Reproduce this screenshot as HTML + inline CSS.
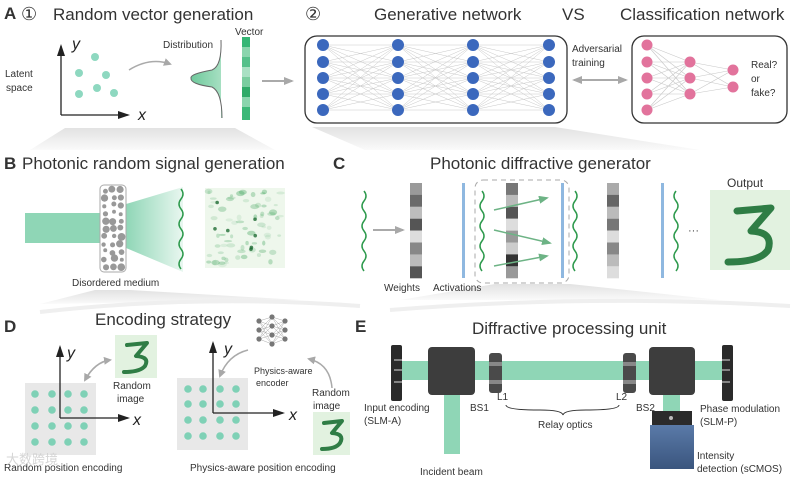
<!DOCTYPE html>
<html><head><meta charset="utf-8"><style>
html,body{margin:0;padding:0;background:#fff;}
svg{display:block;font-family:"Liberation Sans",Arial,sans-serif;}
</style></head><body>
<svg id="s" width="795" height="480" viewBox="0 0 795 480" xmlns="http://www.w3.org/2000/svg">
<defs>
<linearGradient id="sh" x1="0" y1="0" x2="0" y2="1"><stop offset="0" stop-color="#e2e2e2"/><stop offset="1" stop-color="#fafafa"/></linearGradient>
<linearGradient id="cone" x1="0" y1="0" x2="1" y2="0"><stop offset="0" stop-color="#8fd6b6"/><stop offset="1" stop-color="#e9f7f0"/></linearGradient>
<linearGradient id="gau" x1="0" y1="0" x2="1" y2="0"><stop offset="0" stop-color="#6fc99c"/><stop offset="1" stop-color="#a8e0c3"/></linearGradient>
<linearGradient id="cam" x1="0" y1="0" x2="0" y2="1"><stop offset="0" stop-color="#5a7aa8"/><stop offset="1" stop-color="#3a557e"/></linearGradient>
<marker id="ar" markerWidth="8" markerHeight="8" refX="6" refY="4" orient="auto" markerUnits="userSpaceOnUse"><path d="M0,0 L8,4 L0,8 z" fill="#a8a8a8"/></marker>
<marker id="ar2" markerWidth="10" markerHeight="8" refX="8" refY="4" orient="auto" markerUnits="userSpaceOnUse"><path d="M0,0 L10,4 L0,8 z" fill="#a8a8a8"/></marker>
<marker id="ag" markerWidth="10" markerHeight="8" refX="8" refY="4" orient="auto" markerUnits="userSpaceOnUse"><path d="M0,0 L10,4 L0,8 z" fill="#6db385"/></marker>
<marker id="ak" markerWidth="12" markerHeight="8" refX="10" refY="4" orient="auto" markerUnits="userSpaceOnUse"><path d="M0,0 L12,4 L0,8 z" fill="#222"/></marker>
</defs>

<!-- shading -->
<polygon points="65,128 235,128 275,150 30,150" fill="url(#sh)"/>
<polygon points="312,127 555,127 700,150 365,150" fill="url(#sh)"/>
<polygon points="95,290 130,290 300,300 40,304" fill="url(#sh)"/>
<path d="M40,312 Q200,294 360,306" stroke="#efefef" stroke-width="4" fill="none"/>
<polygon points="495,284 570,284 720,300 400,300" fill="url(#sh)"/>
<path d="M390,310 Q590,294 790,306" stroke="#efefef" stroke-width="4" fill="none"/>

<g fill="#333">
<text x="4" y="19" font-size="17" font-weight="bold">A</text>
<text x="21" y="20" font-size="18">①</text>
<text x="53" y="20" font-size="17">Random vector generation</text>
<text x="305" y="20" font-size="18">②</text>
<text x="374" y="20" font-size="17">Generative network</text>
<text x="562" y="20" font-size="17">VS</text>
<text x="620" y="20" font-size="17">Classification network</text>
</g>

<!-- A latent -->
<g fill="#333" font-size="10"><text x="5" y="77">Latent</text><text x="6" y="91">space</text></g>
<line x1="61" y1="115" x2="61" y2="46" stroke="#222" stroke-width="1.3" marker-end="url(#ak)"/>
<line x1="61" y1="115" x2="128" y2="115" stroke="#222" stroke-width="1.3" marker-end="url(#ak)"/>
<text x="72" y="49" font-size="16" font-style="italic" fill="#222">y</text>
<text x="138" y="120" font-size="16" font-style="italic" fill="#222">x</text>
<g fill="#8ed8c0"><circle cx="95" cy="57" r="4"/><circle cx="79" cy="73" r="4"/><circle cx="106" cy="75" r="4"/><circle cx="79" cy="94" r="4"/><circle cx="97" cy="88" r="4"/><circle cx="114" cy="93" r="4"/></g>
<path d="M129,70 Q150,57 170,64" stroke="#aaa" stroke-width="1.5" fill="none" marker-end="url(#ar)"/>
<text x="163" y="48" font-size="10" fill="#333">Distribution</text>
<path d="M221,40 Q222,66 212,70 Q190,74 191,78 Q190,84 212,87 Q222,92 222,118 L221,118 L221,40 z" fill="url(#gau)"/>
<path d="M221,40 Q222,66 212,70 Q190,74 191,78 Q190,84 212,87 Q222,92 222,118" stroke="#666" stroke-width="1" fill="none"/>
<text x="235" y="35" font-size="10" fill="#333">Vector</text>
<g>
<rect x="242" y="37" width="8" height="10" fill="#35b675"/><rect x="242" y="47" width="8" height="10" fill="#8ad5ad"/><rect x="242" y="57" width="8" height="10" fill="#55c08a"/><rect x="242" y="67" width="8" height="10" fill="#a9e0c3"/><rect x="242" y="77" width="8" height="10" fill="#7acd9f"/><rect x="242" y="87" width="8" height="10" fill="#2faa68"/><rect x="242" y="97" width="8" height="10" fill="#8ad5ad"/><rect x="242" y="107" width="8" height="13" fill="#3cb878"/>
</g>
<line x1="262" y1="81" x2="292" y2="81" stroke="#aaa" stroke-width="2" marker-end="url(#ar2)"/>

<!-- gen network -->
<rect x="305" y="36" width="262" height="87" rx="12" fill="#fff" stroke="#333" stroke-width="1.3"/>
<g id="gen"></g>
<g fill="#333" font-size="10"><text x="572" y="52">Adversarial</text><text x="572" y="66">training</text></g>
<line x1="585" y1="80" x2="574" y2="80" stroke="#aaa" stroke-width="2" marker-end="url(#ar2)"/>
<line x1="590" y1="80" x2="626" y2="80" stroke="#aaa" stroke-width="2" marker-end="url(#ar2)"/>
<line x1="585" y1="80" x2="610" y2="80" stroke="#aaa" stroke-width="2"/>
<rect x="632" y="36" width="155" height="87" rx="12" fill="#fff" stroke="#333" stroke-width="1.3"/>
<g id="cls"></g>
<g fill="#333" font-size="10"><text x="751" y="68">Real?</text><text x="751" y="82">or</text><text x="751" y="96">fake?</text></g>

<!-- B -->
<text x="4" y="169" font-size="17" font-weight="bold" fill="#333">B</text>
<text x="22" y="169" font-size="17" fill="#333">Photonic random signal generation</text>
<rect x="25" y="213" width="76" height="30" fill="#8fd6b6"/>
<polygon points="126,204 183,187 183,272 126,248" fill="url(#cone)"/>
<rect x="100" y="185" width="26" height="87" rx="4" fill="#fff" stroke="#aaa"/>
<g id="med" fill="#999"></g>
<path d="M181,189 q4,5 0,10 t0,10 t0,10 t0,10 t0,10 t0,10 t0,10 t0,10" stroke="#2e9a4d" stroke-width="1.5" fill="none"/>
<rect x="205" y="188" width="80" height="80" fill="#eef7ec"/>
<g id="spk"></g>
<text x="72" y="286" font-size="10" fill="#333">Disordered medium</text>

<!-- C -->
<text x="333" y="169" font-size="17" font-weight="bold" fill="#333">C</text>
<text x="430" y="169" font-size="17" fill="#333">Photonic diffractive generator</text>
<path d="M364,191 q4,5 0,10 t0,10 t0,10 t0,10 t0,10 t0,10 t0,10 t0,10" stroke="#2e9a4d" stroke-width="1.5" fill="none"/>
<line x1="373" y1="230" x2="403" y2="230" stroke="#aaa" stroke-width="2" marker-end="url(#ar2)"/>
<g id="bars"></g>
<rect x="462" y="183" width="3" height="95" fill="#8fb8e0"/>
<rect x="475" y="180" width="94" height="103" rx="8" fill="none" stroke="#aaa" stroke-dasharray="5,4"/>
<path d="M482,191 q4,5 0,10 t0,10 t0,10 t0,10 t0,10 t0,10 t0,10 t0,10" stroke="#2e9a4d" stroke-width="1.5" fill="none"/>
<rect x="561" y="183" width="3" height="95" fill="#8fb8e0"/>
<path d="M575,191 q4,5 0,10 t0,10 t0,10 t0,10 t0,10 t0,10 t0,10 t0,10" stroke="#2e9a4d" stroke-width="1.5" fill="none"/>
<rect x="661" y="183" width="3" height="95" fill="#8fb8e0"/>
<path d="M676,191 q-4,5 0,10 t0,10 t0,10 t0,10 t0,10 t0,10 t0,10 t0,10" stroke="#2e9a4d" stroke-width="1.5" fill="none"/>
<line x1="494" y1="210" x2="547" y2="198" stroke="#6db385" stroke-width="1.5" marker-end="url(#ag)"/>
<line x1="494" y1="230" x2="550" y2="243" stroke="#6db385" stroke-width="1.5" marker-end="url(#ag)"/>
<line x1="494" y1="266" x2="547" y2="256" stroke="#6db385" stroke-width="1.5" marker-end="url(#ag)"/>
<text x="688" y="234" font-size="11" fill="#444">···</text>
<text x="727" y="187" font-size="12" fill="#333">Output</text>
<rect x="710" y="190" width="80" height="80" fill="#e2f2e0"/>
<path d="M737,211 L771,208 L751,231 Q774,232 768,250 Q760,262 728,262" stroke="#2f7d45" stroke-width="7" fill="none" stroke-linejoin="round" stroke-linecap="round"/>
<g fill="#333" font-size="10"><text x="384" y="291">Weights</text><text x="433" y="291">Activations</text></g>

<!-- D -->
<text x="4" y="332" font-size="17" font-weight="bold" fill="#333">D</text>
<text x="95" y="325" font-size="17" fill="#333">Encoding strategy</text>
<rect x="25" y="383" width="71" height="72" fill="#e8e8e8"/>
<rect x="177" y="378" width="71" height="72" fill="#e8e8e8"/>
<g id="dots" fill="#7fd1b6"></g>
<line x1="60" y1="418" x2="60" y2="347" stroke="#222" stroke-width="1.3" marker-end="url(#ak)"/>
<line x1="60" y1="418" x2="128" y2="418" stroke="#222" stroke-width="1.3" marker-end="url(#ak)"/>
<text x="67" y="358" font-size="16" font-style="italic" fill="#222">y</text>
<text x="133" y="425" font-size="16" font-style="italic" fill="#222">x</text>
<line x1="213" y1="413" x2="213" y2="343" stroke="#222" stroke-width="1.3" marker-end="url(#ak)"/>
<line x1="213" y1="413" x2="283" y2="413" stroke="#222" stroke-width="1.3" marker-end="url(#ak)"/>
<text x="224" y="354" font-size="16" font-style="italic" fill="#222">y</text>
<text x="289" y="420" font-size="16" font-style="italic" fill="#222">x</text>
<rect x="115" y="335" width="42" height="43" fill="#e2f2e0"/>
<path d="M127,345 L147,343 L136,356 Q150,357 145,366 Q140,372 124,372" stroke="#2f7d45" stroke-width="4" fill="none" stroke-linejoin="round" stroke-linecap="round"/>
<path d="M85,380 Q95,362 110,360" stroke="#aaa" stroke-width="1.5" fill="none" marker-end="url(#ar)"/>
<path d="M110,360 Q95,362 85,380" stroke="#aaa" stroke-width="1.5" fill="none" marker-end="url(#ar)"/>
<g fill="#333" font-size="10"><text x="113" y="389">Random</text><text x="117" y="402">image</text></g>
<g id="enc"></g>
<g fill="#333" font-size="9"><text x="254" y="374">Physics-aware</text><text x="256" y="386">encoder</text></g>
<path d="M248,350 Q228,355 220,376" stroke="#aaa" stroke-width="1.5" fill="none" marker-end="url(#ar)"/>
<path d="M332,388 Q330,364 309,359" stroke="#aaa" stroke-width="1.5" fill="none" marker-end="url(#ar)"/>
<g fill="#333" font-size="10"><text x="312" y="396">Random</text><text x="313" y="409">image</text></g>
<rect x="313" y="412" width="37" height="43" fill="#e2f2e0"/>
<path d="M324,423 L342,421 L332,433 Q345,434 340,443 Q336,449 322,449" stroke="#2f7d45" stroke-width="4" fill="none" stroke-linejoin="round" stroke-linecap="round"/>
<g fill="#333" font-size="10"><text x="4" y="471">Random position encoding</text><text x="190" y="471">Physics-aware position encoding</text></g>
<text x="6" y="464" font-size="13" fill="#ccc" opacity="0.8">大数跨境</text>

<!-- E -->
<text x="355" y="332" font-size="17" font-weight="bold" fill="#333">E</text>
<text x="472" y="334" font-size="17" fill="#333">Diffractive processing unit</text>
<rect x="400" y="361" width="325" height="19" fill="#8fd6b6"/>
<rect x="444" y="392" width="16" height="62" fill="#8fd6b6"/>
<rect x="663" y="392" width="17" height="20" fill="#8fd6b6"/>
<rect x="391" y="345" width="11" height="56" rx="2" fill="#2a2a2a"/>
<g stroke="#ddd" stroke-width="1"><line x1="394" y1="360" x2="402" y2="360"/><line x1="394" y1="370" x2="402" y2="370"/><line x1="394" y1="382" x2="402" y2="382"/></g>
<rect x="722" y="345" width="11" height="56" rx="2" fill="#2a2a2a"/>
<g stroke="#ddd" stroke-width="1"><line x1="722" y1="360" x2="730" y2="360"/><line x1="722" y1="370" x2="730" y2="370"/><line x1="722" y1="382" x2="730" y2="382"/></g>
<rect x="428" y="347" width="47" height="48" rx="4" fill="#3d3d3d"/>
<rect x="649" y="347" width="46" height="48" rx="4" fill="#3d3d3d"/>
<rect x="489" y="353" width="13" height="40" rx="3" fill="#4a4a4a"/>
<rect x="489" y="362" width="13" height="4" fill="#888"/><rect x="489" y="380" width="13" height="4" fill="#888"/>
<rect x="623" y="353" width="13" height="40" rx="3" fill="#4a4a4a"/>
<rect x="623" y="362" width="13" height="4" fill="#888"/><rect x="623" y="380" width="13" height="4" fill="#888"/>
<rect x="652" y="411" width="40" height="14" fill="#2b2b2b"/>
<rect x="650" y="425" width="44" height="44" fill="url(#cam)"/>
<circle cx="671" cy="418" r="2" fill="#bbb"/>
<path d="M506,405 Q506,410 540,410 Q562,410 563,415 Q564,410 586,410 Q619,410 619,405" stroke="#333" fill="none"/>
<g fill="#333" font-size="10">
<text x="364" y="411">Input encoding</text><text x="364" y="424">(SLM-A)</text>
<text x="470" y="411">BS1</text><text x="497" y="400">L1</text><text x="616" y="400">L2</text><text x="636" y="411">BS2</text>
<text x="538" y="428">Relay optics</text>
<text x="700" y="412">Phase modulation</text><text x="700" y="425">(SLM-P)</text>
<text x="697" y="459">Intensity</text><text x="697" y="472">detection (sCMOS)</text>
<text x="420" y="475">Incident beam</text>
</g>
</svg>
<script>
var NS="http://www.w3.org/2000/svg";
function el(p,t,a){var e=document.createElementNS(NS,t);for(var k in a)e.setAttribute(k,a[k]);p.appendChild(e);return e;}
var g=document.getElementById('gen');var cols=[323,398,473,549],rows=[45,62,78,94,110];
for(var c=0;c<3;c++)for(var i=0;i<5;i++)for(var j=0;j<5;j++)el(g,'line',{x1:cols[c],y1:rows[i],x2:cols[c+1],y2:rows[j],stroke:'#c8c8c8','stroke-width':0.5});
cols.forEach(function(x){rows.forEach(function(y){el(g,'circle',{cx:x,cy:y,r:6,fill:'#3b68bd'});});});
var k=document.getElementById('cls');var L=[[647,[45,62,78,94,110]],[690,[62,78,94]],[733,[70,87]]];
for(var c=0;c<2;c++)L[c][1].forEach(function(a){L[c+1][1].forEach(function(b){el(k,'line',{x1:L[c][0],y1:a,x2:L[c+1][0],y2:b,stroke:'#c8c8c8','stroke-width':0.6});});});
L.forEach(function(l){l[1].forEach(function(y){el(k,'circle',{cx:l[0],cy:y,r:5.5,fill:'#e2739c'});});});
var m=document.getElementById('med');var s=11;function rnd(){s=(s*9301+49297)%233280;return s/233280;}
for(var r=0;r<11;r++)for(var c=0;c<3;c++){el(m,'circle',{cx:105+c*8+(rnd()-0.5)*3,cy:190+r*7.7+(rnd()-0.5)*3,r:1.8+rnd()*2.2});}
var sp=document.getElementById('spk');
for(var i=0;i<70;i++){el(sp,'ellipse',{cx:208+rnd()*74,cy:191+rnd()*74,rx:1.5+rnd()*3,ry:1+rnd()*2,fill:'#4aa864','fill-opacity':0.1+rnd()*0.3});}
for(var i=0;i<7;i++)el(sp,'circle',{cx:214+rnd()*62,cy:198+rnd()*62,r:1.8,fill:'#1f6b35','fill-opacity':0.8});
var b=document.getElementById('bars');var sh=[['#9a9a9a','#6a6a6a','#bdbdbd','#555','#ddd','#888','#bbb','#555'],['#777','#bbb','#555','#ddd','#999','#ccc','#333','#999'],['#aaa','#666','#bbb','#777','#ddd','#888','#bbb','#ddd']];
[410,506,607].forEach(function(x,n){for(var i=0;i<8;i++)el(b,'rect',{x:x,y:183+i*11.9,width:12,height:12,fill:sh[n][i]});});
var d=document.getElementById('dots');
[35,52,68,84].forEach(function(x){[394,410,426,442].forEach(function(y){el(d,'circle',{cx:x,cy:y,r:3.8});});});
[188,203,220,236].forEach(function(x){[389,404,420,436].forEach(function(y){el(d,'circle',{cx:x,cy:y,r:3.8});});});
var e=document.getElementById('enc');var EL=[[259,[321,330,339]],[272,[317,326,335,344]],[285,[321,330,339]]];
for(var c=0;c<2;c++)EL[c][1].forEach(function(a){EL[c+1][1].forEach(function(bb){el(e,'line',{x1:EL[c][0],y1:a,x2:EL[c+1][0],y2:bb,stroke:'#aaa','stroke-width':0.5});});});
EL.forEach(function(l){l[1].forEach(function(y){el(e,'circle',{cx:l[0],cy:y,r:2.6,fill:'#777'});});});
</script>
</body></html>
